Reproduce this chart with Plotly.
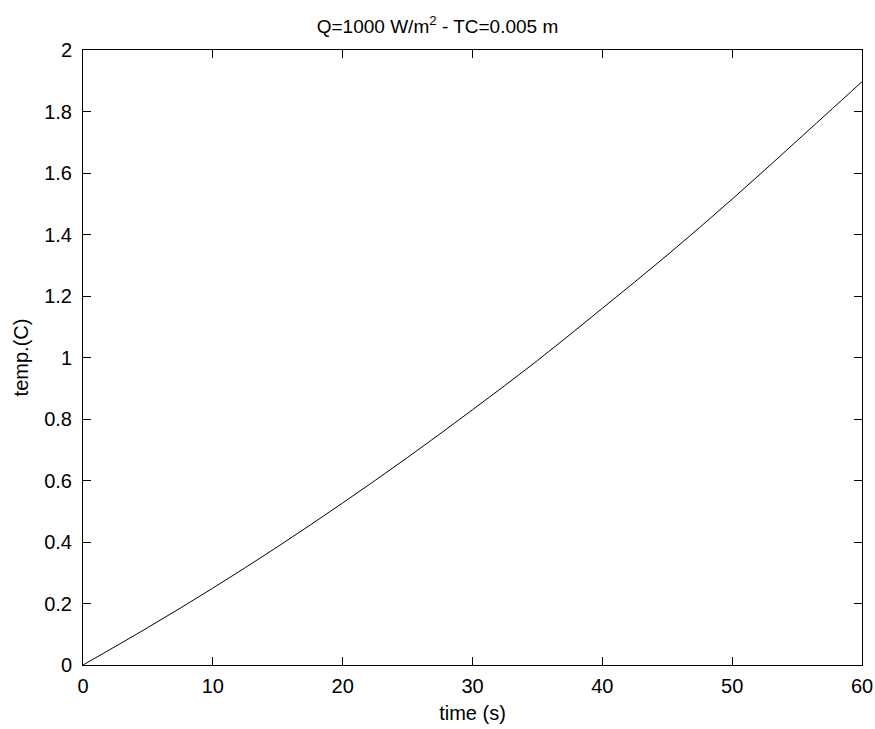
import plotly.graph_objects as go

time_s = [0, 5, 10, 15, 20, 25, 30, 35, 40, 45, 50, 55, 60]
temp_c = [0, 0.122, 0.25, 0.385, 0.527, 0.675, 0.83, 0.99, 1.16, 1.333, 1.515, 1.705, 1.897]

x_ticks = [0, 10, 20, 30, 40, 50, 60]
x_ticktext = ["0", "10", "20", "30", "40", "50", "60"]
y_ticks = [0, 0.2, 0.4, 0.6, 0.8, 1.0, 1.2, 1.4, 1.6, 1.8, 2.0]
y_ticktext = ["0", "0.2", "0.4", "0.6", "0.8", "1", "1.2", "1.4", "1.6", "1.8", "2"]

title_text = "Q=1000 W/m<sup>2</sup> - TC=0.005 m"
x_title = "time (s)"
y_title = "temp.(C)"

font_family = "Liberation Sans, Arial, sans-serif"
fsize = 20

fig = go.Figure()
fig.add_trace(go.Scatter(x=time_s, y=temp_c, mode="lines",
                         line=dict(color="black", width=1, shape="spline"),
                         showlegend=False, hoverinfo="skip"))

axis_common = dict(showgrid=False, zeroline=False, showline=True, linecolor="black",
                   linewidth=1, mirror="ticks", ticks="inside", ticklen=8,
                   tickcolor="black", tickwidth=1, automargin=False,
                   tickfont=dict(family=font_family, size=fsize, color="black"))

fig.update_layout(
    width=875, height=729,
    paper_bgcolor="white", plot_bgcolor="white",
    margin=dict(l=83, r=13, t=50, b=64, autoexpand=False),
    title=dict(text=title_text, x=0.5, xanchor="center", y=0.964, yanchor="middle",
               font=dict(family=font_family, size=19, color="black")),
    xaxis=dict(range=[0, 60], tickvals=x_ticks, ticktext=x_ticktext,
               ticklabelstandoff=3,
               title=dict(text=x_title, standoff=9,
                          font=dict(family=font_family, size=fsize, color="black")),
               **axis_common),
    yaxis=dict(range=[0, 2], tickvals=y_ticks, ticktext=y_ticktext,
               ticklabelstandoff=6,
               title=dict(text=y_title, standoff=10,
                          font=dict(family=font_family, size=fsize, color="black")),
               **axis_common),
)

fig.write_html("out.html",
               config={"displayModeBar": False},
               post_script="document.body.style.margin='0';document.body.style.overflow='hidden';")
